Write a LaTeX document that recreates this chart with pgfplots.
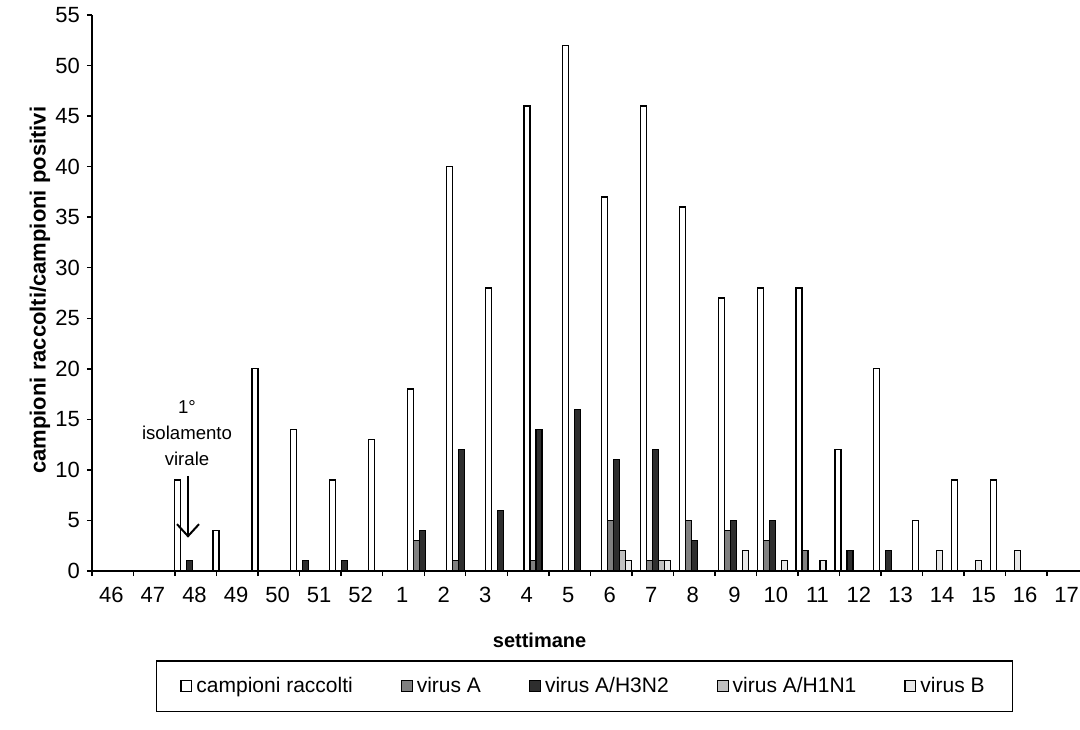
\documentclass[border=0pt]{standalone}
\usepackage{fontspec}
\setmainfont{Liberation Sans}
\usepackage{pgfplots}
\pgfplotsset{compat=1.18}
\usetikzlibrary{arrows.meta}

\definecolor{virA}{HTML}{808080}
\definecolor{h3n2}{HTML}{2E2E2E}
\definecolor{h1n1}{HTML}{C0C0C0}
\definecolor{virB}{HTML}{E8E8E8}

\begin{document}
\begin{tikzpicture}
\path[use as bounding box] (0pt,0pt) rectangle (540pt,364.5pt);
\begin{axis}[
  at={(46pt,79pt)}, anchor=south west,
  scale only axis, width=494pt, height=278pt,
  xmin=-0.5, xmax=24.92, ymin=0, ymax=55,
  axis lines*=left,
  axis line style={line width=0.7pt, -},
  tick align=outside,
  ytick={0,5,...,55},
  major tick length=2.5pt, minor tick length=2.5pt,
  every tick/.style={black, line width=0.7pt},
  xtick={0,1.0685,2.137,3.2055,4.274,5.3425,6.411,7.4795,8.548,9.6165,10.685,11.7535,12.822,13.8905,14.959,16.0275,17.096,18.1645,19.233,20.3015,21.37,22.4385,23.507,24.5755},
  xticklabels={46,47,48,49,50,51,52,1,2,3,4,5,6,7,8,9,10,11,12,13,14,15,16,17},
  major x tick style={draw=none},
  minor xtick={-0.5,0.5685,1.637,2.7055,3.774,4.8425,5.911,6.9795,8.048,9.1165,10.185,11.2535,12.322,13.3905,14.459,15.5275,16.596,17.6645,18.733,19.8015,20.87,21.9385,23.007,24.0755},
  minor x tick style={black, line width=0.7pt},
  /pgf/number format/assume math mode=true,
  tick label style={font=\fontsize{11}{13}\selectfont},
  xticklabel style={yshift=-2pt},
  xlabel={settimane},
  xlabel style={at={(axis description cs:0.453,-0.124)}, anchor=center, font=\bfseries\fontsize{10}{12}\selectfont},
  ylabel={campioni raccolti/campioni positivi},
  ylabel style={at={(axis description cs:-0.0526,0.505)}, anchor=center, font=\bfseries\fontsize{11}{13}\selectfont},
  legend columns=5,
  legend style={at={(axis description cs:0.4985,-0.207)}, anchor=center,
    draw=black, line width=0.6pt, font=\fontsize{10.5}{12}\selectfont,
    inner xsep=12pt, inner ysep=6pt,
    /tikz/every even column/.append style={column sep=22pt}},
  legend image code/.code={\draw[#1, bar shift=0pt] (0pt,-2.7pt) rectangle (5.4pt,2.7pt);},
  clip=false,
]
% collected samples
\addplot[ybar, bar width=3pt, bar shift=-6pt, fill=white, draw=black, line width=0.6pt] coordinates {
 (2,9) (3,4) (4,20) (5,14) (6,9) (7,13) (8,18) (9,40) (10,28) (11,46) (12,52)
 (13,37) (14,46) (15,36) (16,27) (17,28) (18,28) (19,12) (20,20) (21,5) (22,9) (23,9)};
\addlegendentry{campioni raccolti}
% virus A
\addplot[ybar, bar width=3pt, bar shift=-3pt, fill=virA, draw=black, line width=0.6pt] coordinates {
 (8,3) (9,1) (11,1) (13,5) (14,1) (15,5) (16,4) (17,3) (18,2)};
\addlegendentry{virus A}
% virus A/H3N2
\addplot[ybar, bar width=3pt, bar shift=0pt, fill=h3n2, draw=black, line width=0.6pt] coordinates {
 (2,1) (5,1) (6,1) (8,4) (9,12) (10,6) (11,14) (12,16) (13,11) (14,12) (15,3)
 (16,5) (17,5) (19,2) (20,2)};
\addlegendentry{virus A/H3N2}
% virus A/H1N1
\addplot[ybar, bar width=3pt, bar shift=3pt, fill=h1n1, draw=black, line width=0.6pt] coordinates {
 (13,2) (14,1)};
\addlegendentry{virus A/H1N1}
% virus B
\addplot[ybar, bar width=3pt, bar shift=6pt, fill=virB, draw=black, line width=0.6pt] coordinates {
 (13,1) (14,1) (16,2) (17,1) (18,1) (21,2) (22,1) (23,2)};
\addlegendentry{virus B}

\node[align=center, font=\fontsize{9.3}{13}\selectfont] at (axis cs:1.945,13.6) {1°\\isolamento\\virale};
\draw[line width=1pt, -{Straight Barb[length=6pt,width=11pt,line width=1pt]}] (axis cs:1.97,9.4) -- (axis cs:1.97,3.3);
\end{axis}
\end{tikzpicture}
\end{document}
